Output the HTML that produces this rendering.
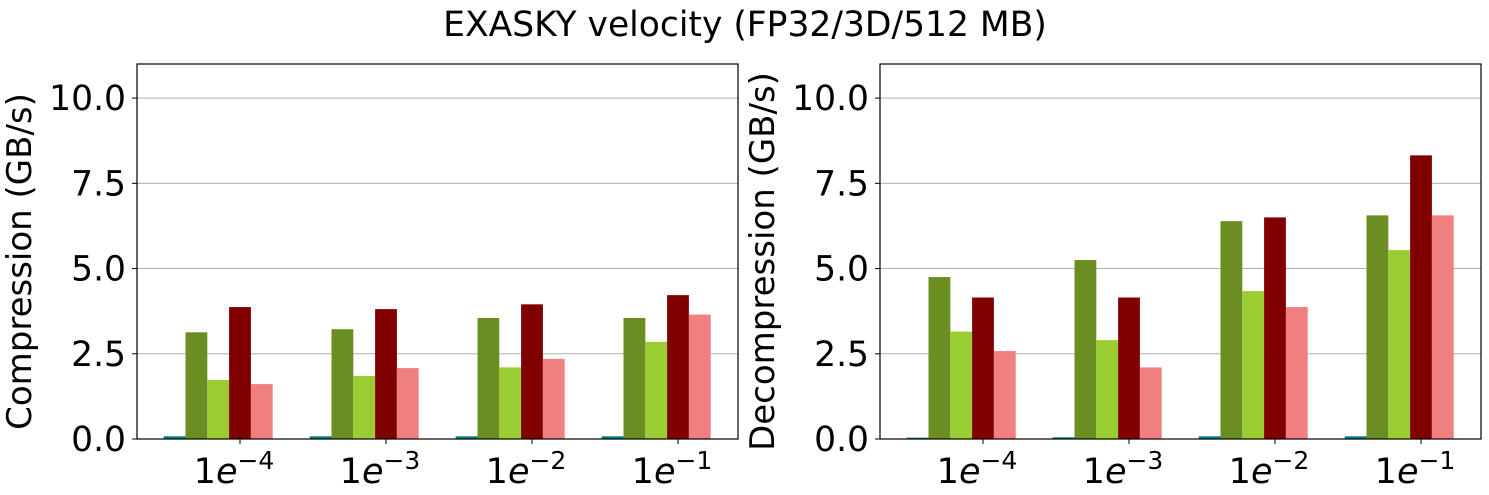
<!DOCTYPE html>
<html><head><meta charset="utf-8"><style>
body{margin:0;background:#fff;}
svg{display:block;font-family:"DejaVu Sans","Liberation Sans",sans-serif;}
</style></head><body>
<svg id="c" width="1489" height="495">
<text x="745" y="36" font-size="34.5" text-anchor="middle">EXASKY velocity (FP32/3D/512 MB)</text>
</svg>
<script>
const categories=["1e-4","1e-3","1e-2","1e-1"];
const exps=["−4","−3","−2","−1"];
const seriesColors=["#008080","#6b8e23","#9acd32","#800000","#f08080"];
const compTeal=[0.08,0.08,0.08,0.08];
const compOlive=[3.13,3.22,3.55,3.55];
const compYellowGreen=[1.73,1.85,2.1,2.85];
const compDarkRed=[3.87,3.81,3.95,4.22];
const compCoral=[1.61,2.08,2.35,3.65];
const decTeal=[0.04,0.05,0.08,0.08];
const decOlive=[4.75,5.25,6.39,6.56];
const decYellowGreen=[3.15,2.9,4.34,5.54];
const decDarkRed=[4.15,4.15,6.5,8.32];
const decCoral=[2.58,2.1,3.87,6.56];
const yTicks=[0,2.5,5,7.5,10];
const yTickLabels=["0.0","2.5","5.0","7.5","10.0"];
const NS="http://www.w3.org/2000/svg";
const svg=document.getElementById('c');
function mk(t,a,p){const e=document.createElementNS(NS,t);for(const k in a)e.setAttribute(k,a[k]);(p||svg).appendChild(e);return e;}
function panel(x0,label,series,pname){
  const x1=x0+601,top=64,bot=439,ymax=11;
  const g=mk('g',{});
  
  
  const y=v=>bot-(v/ymax)*(bot-top);
  const step=146,w=21.8;
  const xc=i=>x0+103+i*step;
  yTicks.forEach((t,i)=>{
    if(t>0){const gl=mk('line',{x1:x0,x2:x1,y1:y(t),y2:y(t),stroke:'#b0b0b0','stroke-width':1},g);
    }
    mk('line',{x1:x0-5,x2:x0,y1:y(t),y2:y(t),stroke:'#000'},g);
    const tl=mk('text',{x:x0-11,y:y(t)+12,'font-size':34.5,'text-anchor':'end'},g);
    tl.textContent=yTickLabels[i];
    
  });
  series.forEach((s,k)=>{
    s.forEach((v,i)=>{
      const cx=xc(i)+(k-3)*w;
      const r=mk('rect',{x:cx-w/2,y:y(v),width:w,height:bot-y(v),fill:seriesColors[k]},g);
      
      
    });
  });
  categories.forEach((c,i)=>{
    mk('line',{x1:xc(i),x2:xc(i),y1:bot,y2:bot+5,stroke:'#000'},g);
    const t=mk('text',{x:xc(i)-6,y:bot+44,'font-size':35,'text-anchor':'middle'},g);
    t.innerHTML='1<tspan font-style="italic">e</tspan><tspan dy="-14" font-size="25">'+exps[i]+'</tspan>';
    
  });
  const fr=mk('rect',{x:x0,y:top,width:601,height:bot-top,fill:'none',stroke:'#000','stroke-width':1.2},g);
  
  const yl=mk('text',{x:0,y:0,'font-size':34,'text-anchor':'middle',transform:'translate('+(x0-106)+','+((top+bot)/2+10)+') rotate(-90)'},g);
  yl.textContent=label;
  
}
panel(137,"Compression (GB/s)",[compTeal,compOlive,compYellowGreen,compDarkRed,compCoral],'compression-panel');
panel(880,"Decompression (GB/s)",[decTeal,decOlive,decYellowGreen,decDarkRed,decCoral],'decompression-panel');
</script>
</body></html>
